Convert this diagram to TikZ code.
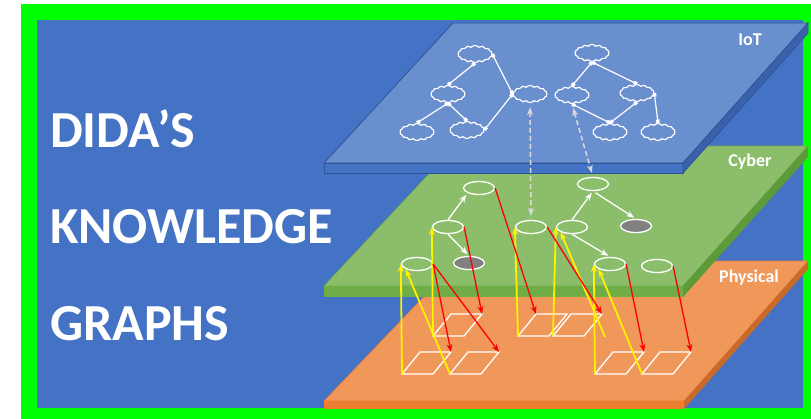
\documentclass[tikz,border=0pt]{standalone}
\usepackage{fontspec}
\setmainfont{Carlito}
\usetikzlibrary{arrows.meta,shapes.geometric,shapes.symbols}
\definecolor{frame}{HTML}{00FF00}
\definecolor{bgblue}{HTML}{4472C4}
\definecolor{iottop}{HTML}{6A8FCF}
\definecolor{iotside}{HTML}{3A62AC}
\definecolor{iotline}{HTML}{2F5597}
\definecolor{cybtop}{HTML}{8CBD6A}
\definecolor{cybfront}{HTML}{70AD47}
\definecolor{cybside}{HTML}{5F9A3A}
\definecolor{phytop}{HTML}{F0975A}
\definecolor{phyfront}{HTML}{ED7D31}
\definecolor{physide}{HTML}{C96A2A}
\definecolor{syncgray}{HTML}{D9D9D9}
\tikzset{
title/.style={text=white,font=\bfseries\fontsize{52}{56}\selectfont,anchor=base west,inner sep=0pt},
layerlabel/.style={text=white,font=\bfseries\fontsize{18}{20}\selectfont,inner sep=0pt},
cloudnode/.style={draw=white,cloud,cloud puffs=14,cloud puff arc=100,aspect=2,minimum width=34pt,minimum height=17pt,inner sep=0pt,line width=1.2pt},
cybernode/.style={draw=white,ellipse,minimum width=31pt,minimum height=13pt,inner sep=0pt,line width=1.3pt},
darknode/.style={cybernode,fill=gray},
plate/.style={draw=white,line width=1.3pt,line join=miter},
link/.style={white,line width=1.2pt,{Square[length=3.5pt]}-{Square[length=3.5pt]}},
treeflow/.style={-{Stealth[length=8pt,width=6pt]},white,line width=1.3pt,shorten >=2pt},
sync/.style={{Stealth[length=8pt,width=6pt]}-{Stealth[length=8pt,width=6pt]},syncgray,line width=1.5pt,dash pattern=on 5pt off 3pt,shorten <=4pt,shorten >=4pt},
uplink/.style={-{Stealth[length=8pt,width=6pt]},yellow,line width=1.8pt},
downlink/.style={-{Stealth[length=8pt,width=6pt]},red,line width=1.3pt}
}
\begin{document}
\begin{tikzpicture}[x=1pt,y=-1pt]
\useasboundingbox (0,0) rectangle (811,418);
\clip (0,0) rectangle (811,418);
\fill[frame] (21,4) rectangle (830,430);
\fill[bgblue] (37,20) rectangle (803,408);
\node[title] (dida) at (50,147) {DIDA’S};
\node[title] (know) at (50,243) {KNOWLEDGE};
\node[title] (graphs) at (50,340) {GRAPHS};
\filldraw[fill=phytop,draw=phyfront,line width=.6pt] (324,401) -- (458,261) -- (808,261) -- (684,401) -- cycle;
\fill[phyfront] (324,401) rectangle (684,409);
\fill[physide] (684,401) -- (808,261) -- (808,269) -- (684,409) -- cycle;
\filldraw[fill=cybtop,draw=cybfront,line width=.6pt] (324,286) -- (455,146) -- (808,146) -- (683,286) -- cycle;
\fill[cybfront] (324,286) rectangle (683,297);
\fill[cybside] (683,286) -- (808,146) -- (808,157) -- (683,297) -- cycle;
\filldraw[fill=iottop,draw=iotline,line width=.8pt] (324,163) -- (453,23) -- (808,23) -- (683,163) -- cycle;
\filldraw[fill=bgblue,draw=iotline,line width=.8pt] (324,163) rectangle (683,173);
\filldraw[fill=iotside,draw=iotline,line width=.8pt] (683,163) -- (808,23) -- (808,33) -- (683,173) -- cycle;
\node[layerlabel] (iotlbl) at (750,40) {IoT};
\node[layerlabel] (cyblbl) at (750,162) {Cyber};
\node[layerlabel] (phylbl) at (749,278) {Physical};
\foreach \n/\x/\y in {p1/433/336,p2/402/374,p3/450/374,p4/518/336,p5/553/336,p6/595/374,p7/642/374}{
\coordinate (\n) at (\x,\y);\coordinate (\n-tl) at (\x+18,\y-22);\coordinate (\n-tr) at (\x+49,\y-22);
\draw[plate] (\n) -- ++(31,0) -- (\n-tr) -- (\n-tl) -- cycle;}
\coordinate (loose) at (605,337);
\node[cybernode] (e1) at (479,188) {};
\node[cybernode] (e2) at (448,227) {};
\node[cybernode] (e3) at (417,264) {};
\node[darknode] (g1) at (469,263) {};
\node[cybernode] (e4) at (531,227) {};
\node[cybernode] (e5) at (593,184) {};
\node[cybernode] (e6) at (572,227) {};
\node[darknode] (g2) at (636,226) {};
\node[cybernode] (e7) at (610,264) {};
\node[cybernode] (e8) at (657,266) {};
\node[cloudnode] (c1) at (475,54) {};
\node[cloudnode] (c2) at (448,94) {};
\node[cloudnode] (c3) at (530,94) {};
\node[cloudnode] (c4) at (417,132) {};
\node[cloudnode] (c5) at (467,130) {};
\node[cloudnode] (d1) at (592,53) {};
\node[cloudnode] (d2) at (572,95) {};
\node[cloudnode] (d3) at (637,93) {};
\node[cloudnode] (d4) at (610,132) {};
\node[cloudnode] (d5) at (658,132) {};
\draw[link](c1.south)--(c2.north);\draw[link](c1.east)--(c3.west);\draw[link](c2.south)--(c4.north);\draw[link](c2.south)--(c5.north);\draw[link](c3.west)--(c5.east);
\draw[link](d1.south)--(d2.north);\draw[link](d1.south)--(d3.north);\draw[link](d2.south)--(d4.north);\draw[link](d3.south)--(d4.north);\draw[link](d3.east)--(d5.north);
\draw[sync](c3.south)--(e4.north);\draw[sync](d2.south)--(e5.north);
\draw[treeflow](e2.north)--(e1.south west);\draw[treeflow](e2.south)--(g1.north);
\draw[treeflow](e6.north)--(e5.south);\draw[treeflow,shorten <=3pt](e5.south)--(g2.north);\draw[treeflow](e6.south)--(e7.north);
\draw[uplink](p2)--(e3.west);\draw[uplink](p3)--(e3.south west);
\draw[uplink](p1)--(e2.west);\draw[uplink](p4)--(e4.west);
\draw[uplink](p5)--(e6.west);\draw[uplink](loose)--(e6.south west);
\draw[uplink](p6)--(e7.west);\draw[uplink](p7)--(e7.south west);
\draw[downlink](e1.east)--(p4-tl);\draw[downlink](e2.east)--(p1-tr);
\draw[downlink](e3.east)--(p2-tr);\draw[downlink](e3.east)--(p3-tr);
\draw[downlink](e4.east)--(p5-tr);\draw[downlink](e7.east)--(p6-tr);
\draw[downlink](e8.east)--(p7-tr);
\end{tikzpicture}
\end{document}
